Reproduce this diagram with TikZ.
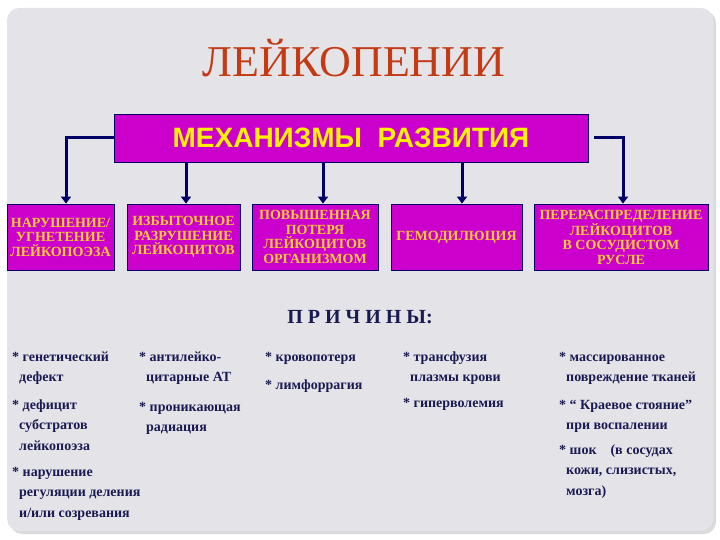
\documentclass[tikz,border=0pt]{standalone}
\usepackage{fontspec}
\setmainfont{Liberation Serif}
\setsansfont{Liberation Sans}
\usepackage{xcolor}
\usetikzlibrary{arrows,shapes,positioning,fit,arrows.meta,backgrounds,calc}
\definecolor{panelgray}{HTML}{E4E4E8}
\definecolor{boxmag}{HTML}{CC00CC}
\definecolor{navy}{HTML}{000066}
\definecolor{causeblue}{HTML}{1A1A52}
\definecolor{titlered}{HTML}{C43A14}
\definecolor{boxgold}{HTML}{FFCC33}

\begin{document}
\begin{tikzpicture}[x=1pt,y=-1pt,
  mech/.style={draw=navy,line width=0.8pt,fill=boxmag,text=boxgold,align=center,
    minimum height=66pt,inner sep=1pt,font=\fontsize{14}{14.5}\selectfont\bfseries},
  cause/.style={anchor=base west,align=left,text=causeblue,inner sep=0pt,
    font=\fontsize{14}{20.5}\selectfont\bfseries},
  arr/.style={navy,line width=3pt,-{Triangle[length=7pt,width=10pt]}}]
\useasboundingbox (0,0) rectangle (720,540);
\fill[black!14,rounded corners=12pt] (10,11) rectangle (716,534);
\fill[panelgray,rounded corners=12pt] (7,8) rectangle (713,531);

\node[text=titlered,font=\fontsize{44}{44}\selectfont] (title) at (354,58) {ЛЕЙКОПЕНИИ};

\node[draw=navy,line width=0.8pt,fill=boxmag,minimum width=474pt,minimum height=48pt,
  text=yellow,font=\fontsize{28}{28}\selectfont\sffamily\bfseries] (main) at (351,138)
  {МЕХАНИЗМЫ\ \ РАЗВИТИЯ};

\node[mech,minimum width=107pt] (b1) at (60.5,237) {НАРУШЕНИЕ/\\УГНЕТЕНИЕ\\ЛЕЙКОПОЭЗА};
\node[mech,minimum width=113pt] (b2) at (183.5,237) {ИЗБЫТОЧНОЕ\\РАЗРУШЕНИЕ\\ЛЕЙКОЦИТОВ};
\node[mech,minimum width=126pt] (b3) at (315,237) {ПОВЫШЕННАЯ\\ПОТЕРЯ\\ЛЕЙКОЦИТОВ\\ОРГАНИЗМОМ};
\node[mech,minimum width=131pt] (b4) at (456.5,237) {ГЕМОДИЛЮЦИЯ};
\node[mech,minimum width=174pt] (b5) at (621,237) {ПЕРЕРАСПРЕДЕЛЕНИЕ\\ЛЕЙКОЦИТОВ\\В СОСУДИСТОМ\\РУСЛЕ};

\draw[arr] (main.west) -| ([xshift=5.5pt]b1.north);
\draw[arr] ([xshift=2.5pt]b2.north |- main.south) -- ([xshift=2.5pt]b2.north);
\draw[arr] ([xshift=8pt]b3.north |- main.south) -- ([xshift=8pt]b3.north);
\draw[arr] ([xshift=5.5pt]b4.north |- main.south) -- ([xshift=5.5pt]b4.north);
\draw[arr] ([xshift=6pt]main.east) -| ([xshift=2pt]b5.north);

\node[text=causeblue,font=\fontsize{20}{20}\selectfont\bfseries] (why) at (360,317) {П Р И Ч И Н Ы:};

\node[cause] (c11) at (12,381.5) {* генетический\\\hspace*{7pt}дефект};
\node[cause] (c12) at (12,450) {* дефицит\\\hspace*{7pt}субстратов\\\hspace*{7pt}лейкопоэза};
\node[cause] (c13) at (12,517) {* нарушение\\\hspace*{7pt}регуляции деления\\\hspace*{7pt}и/или созревания};
\node[cause] (c21) at (139,381.5) {* антилейко-\\\hspace*{7pt}цитарные АТ};
\node[cause] (c22) at (139,431.5) {* проникающая\\\hspace*{7pt}радиация};
\node[cause] (c31) at (265,361) {* кровопотеря};
\node[cause] (c32) at (265,389) {* лимфоррагия};
\node[cause] (c41) at (403,381.5) {* трансфузия\\\hspace*{7pt}плазмы крови};
\node[cause] (c42) at (403,407) {* гиперволемия};
\node[cause] (c51) at (559,381.5) {* массированное\\\hspace*{7pt}повреждение тканей};
\node[cause] (c52) at (559,429.5) {* “ Краевое стояние”\\\hspace*{7pt}при воспалении};
\node[cause] (c53) at (559,495) {* шок\quad (в сосудах\\\hspace*{7pt}кожи, слизистых,\\\hspace*{7pt}мозга)};
\end{tikzpicture}
\end{document}
